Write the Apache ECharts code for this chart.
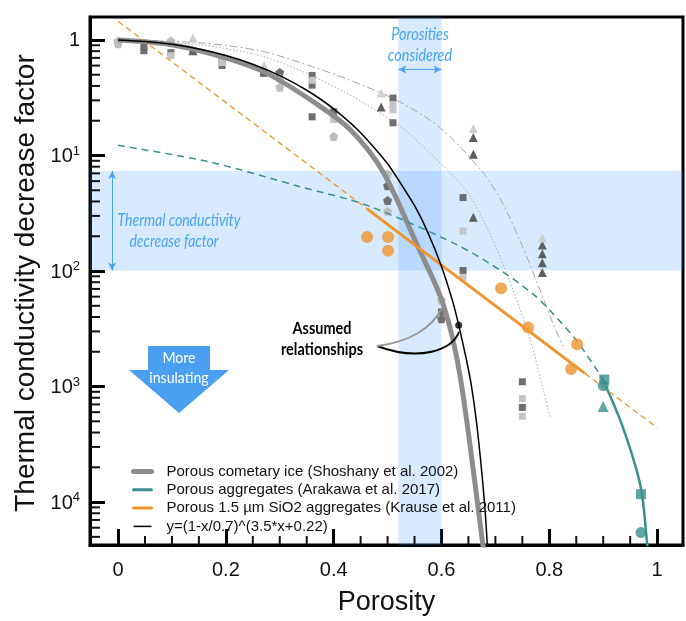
<!DOCTYPE html>
<html><head><meta charset="utf-8">
<script src="https://cdn.jsdelivr.net/npm/echarts@6/dist/echarts.min.js"></script>
<style>html,body{margin:0;padding:0;background:#fff}#c{width:686px;height:621px}</style>
</head><body><div id="c"></div>
<script>
// ---------- data ----------
const xTickLabels = ['0', '0.2', '0.4', '0.6', '0.8', '1'];
const yTickExponents = [0, 1, 2, 3, 4];
const xMinorTicks = [0.05,0.1,0.15,0.25,0.3,0.35,0.45,0.5,0.55,0.65,0.7,0.75,0.85,0.9,0.95];
const yMinorTicks = [0.9,0.8,0.7,0.6,0.5,0.4,0.3,0.2,
                     0.09,0.08,0.07,0.06,0.05,0.04,0.03,0.02,
                     0.009,0.008,0.007,0.006,0.005,0.004,0.003,0.002,
                     0.0009,0.0008,0.0007,0.0006,0.0005,0.0004,0.0003,0.0002,
                     0.00009,0.00008,0.00007,0.00006,0.00005];

const shoshanyCurve = [[0,1],[0.0965,0.915],[0.1855,0.731],[0.2727,0.524],[0.3655,0.285],[0.4304,0.1676],[0.4917,0.0721],[0.5547,0.01686],[0.603,0.00519],[0.6345,0.001236],[0.6772,0.0000414],[0.681,0.00003]];
const arakawaDashed = [[0,0.1225],[0.1707,0.0877],[0.3377,0.0537],[0.462,0.037],[0.629,0.01686],[0.7124,0.00991],[0.770,0.00631],[0.807,0.00427],[0.8516,0.00246],[0.898,0.00119]];
const arakawaSolid = [[0.898,0.00119],[0.9165,0.000757],[0.935,0.000463],[0.959,0.000211],[0.972,0.000117],[0.9814,0.0000439],[0.9845,0.0000327]];
const arakawaSquares = [[0.902,0.00115],[0.97,0.000117]];
const arakawaCircles = [[0.9,0.00102],[0.97,0.0000545]];
const arakawaTriangles = [[0.9,0.000673]];
const krauseDashedLow = [[0,1.45],[0.462,0.0345]];
const krauseSolid = [[0.462,0.0345],[0.866,0.0013]];
const krauseDashedHigh = [[0.866,0.0013],[1.0,0.00044]];
const krauseDots = [[0.462,0.0197],[0.501,0.0197],[0.501,0.015],[0.7106,0.0071],[0.7607,0.00324],[0.8516,0.00232],[0.8404,0.00142]];
const fitCurve = [[0,1],[0.05,0.971],[0.1,0.916],[0.15,0.835],[0.2,0.734],[0.25,0.617],[0.3,0.491],[0.35,0.367],[0.4,0.2534],[0.45,0.1575],[0.5,0.0847],[0.55,0.0368],[0.575,0.02137],[0.6,0.01095],[0.62,0.00561],[0.632,0.0034],[0.645,0.00182],[0.655,0.00105],[0.665,0.00049],[0.673,0.00022],[0.68,0.0000967],[0.685,0.0000427],[0.69,0.0000138]];
const fitPoint = [[0.632,0.0034]];
const bgDashCurve = [[0,1],[0.152,0.944],[0.2635,0.807],[0.3377,0.637],[0.4304,0.448],[0.5232,0.29],[0.5974,0.174],[0.6716,0.0764],[0.7087,0.0424],[0.7458,0.01824],[0.7829,0.00683],[0.807,0.0035],[0.8256,0.00223]];
const bgDotCurve = [[0,1],[0.152,0.908],[0.2635,0.731],[0.3377,0.545],[0.4304,0.333],[0.5232,0.178],[0.5844,0.0986],[0.6475,0.0486],[0.6957,0.01824],[0.7328,0.00683],[0.7644,0.00256],[0.7885,0.000958],[0.8015,0.000542]];
const bgDarkSquares = [[0.048,0.873],[0.048,0.807],[0.098,0.776],[0.139,0.807],[0.193,0.689],[0.193,0.601],[0.27,0.513],[0.36,0.493],[0.36,0.406],[0.36,0.216],[0.4,0.239],[0.51,0.314],[0.51,0.192],[0.6,0.00443],[0.64,0.0432],[0.64,0.0101],[0.75,0.0011],[0.75,0.000659]];
const bgLightSquares = [[0.098,0.731],[0.193,0.637],[0.36,0.448],[0.4,0.205],[0.51,0.274],[0.51,0.248],[0.64,0.0222],[0.64,0.00881],[0.75,0.000787],[0.75,0.000553]];
const bgDarkTriangles = [[0.139,0.807],[0.271,0.545],[0.488,0.263],[0.659,0.143],[0.659,0.1025],[0.659,0.0292],[0.787,0.0168],[0.787,0.0141],[0.787,0.0118],[0.787,0.00972]];
const bgLightTriangles = [[0.139,1.04],[0.271,0.601],[0.488,0.347],[0.659,0.171],[0.787,0.0193]];
const bgDarkPentagons = [[0.3,0.524],[0.5,0.0547],[0.5,0.0408],[0.6,0.00386]];
const bgLightPentagons = [[0,0.98],[0,0.925],[0.098,0.98],[0.3,0.465],[0.3,0.39],[0.4,0.146],[0.5,0.0693],[0.5,0.0329],[0.6,0.00561]];
const porosityBand = [0.52, 0.6];
const factorBand = [0.0101, 0.0734];
const factorArrowX = -0.011;
const porosityArrowY = 0.556;

const legendNames = ['Porous cometary ice (Shoshany et al. 2002)','Porous aggregates (Arakawa et al. 2017)','Porous 1.5 µm SiO2 aggregates (Krause et al. 2011)','y=(1-x/0.7)^(3.5*x+0.22)'];

// ---------- chart ----------
const X_MIN = -0.052, X_MAX = 1.048, Y_MIN = 4.25e-5, Y_MAX = 1.58;
const TEAL = '#3b8f8d', ORANGE = '#f0952e', GRAY = '#8d8d8d', BLUE = '#4aa3f5';
const PENTA = 'path://M0,-1 L0.951,-0.309 L0.588,0.809 L-0.588,0.809 L-0.951,-0.309 Z';
const FONT = '"Liberation Sans", Arial, sans-serif';

const chart = echarts.init(document.getElementById('c'));

function bgScatter(name, data, symbol, size, color) {
  return {type:'scatter', name, data, symbol, symbolSize:size, z:1, silent:true,
          itemStyle:{color, opacity:1}};
}

const option = {
  animation: false,
  backgroundColor: '#fff',
  grid: {left: 90, right: 3, top: 17, bottom: 66, show: true, borderColor: '#000', borderWidth: 3},
  xAxis: {
    type: 'value', min: X_MIN, max: X_MAX,
    name: 'Porosity', nameLocation: 'middle', nameGap: 44,
    nameTextStyle: {fontFamily: FONT, fontSize: 27, color: '#111'},
    axisLine: {onZero: false, lineStyle: {color: '#000', width: 3}},
    axisTick: {inside: true, length: 16, lineStyle: {color: '#000', width: 3}},
    axisLabel: {margin: 15, fontFamily: FONT, fontSize: 20, color: '#111', showMinLabel: false, showMaxLabel: false,
      formatter: v => { const s = String(Math.round(v * 10) / 10); return xTickLabels.indexOf(s) >= 0 && Math.abs(v*5 - Math.round(v*5)) < 1e-6 ? s : ''; }},
    splitLine: {show: false}
  },
  yAxis: {
    type: 'log', logBase: 10, min: Y_MIN, max: Y_MAX,
    axisLine: {onZero: false, lineStyle: {color: '#000', width: 3}},
    axisTick: {inside: true, length: 15, lineStyle: {color: '#000', width: 3}},
    axisLabel: {margin: 10, fontFamily: FONT, fontSize: 20, color: '#111', showMinLabel: false, showMaxLabel: false,
      formatter: v => {
        const e = Math.log10(v); const n = Math.round(-e);
        if (Math.abs(e + n) > 1e-6 || yTickExponents.indexOf(n) < 0) return '';
        return n === 0 ? '{b|1}' : '{b|10}{s|' + n + '}';
      },
      rich: {b: {fontFamily: FONT, fontSize: 20, lineHeight: 22, verticalAlign: 'bottom', color: '#111'},
             s: {fontFamily: FONT, fontSize: 13, lineHeight: 17, verticalAlign: 'top', color: '#111'}}
    },
    splitLine: {show: false}
  },
  legend: {
    orient: 'vertical', left: 126, top: 459, itemWidth: 18, itemHeight: 12, itemGap: 3.3,
    textStyle: {fontFamily: FONT, fontSize: 15, color: '#111', padding: [0, 0, 0, 10]},
    itemStyle: {opacity: 0},
    data: [
      {name: legendNames[0], lineStyle: {width: 5, color: GRAY, type: 'solid', cap: 'round'}},
      {name: legendNames[1], lineStyle: {width: 3, color: TEAL, type: 'solid', cap: 'round'}},
      {name: legendNames[2], lineStyle: {width: 3, color: ORANGE, type: 'solid', cap: 'round'}},
      {name: legendNames[3], lineStyle: {width: 1.5, color: '#000', type: 'solid'}}
    ],
    selectedMode: false
  },
  series: [
    {type:'line', name:'bg dash', data: bgDashCurve, smooth: 0.3, symbol:'none', z:1, silent:true,
     lineStyle:{color:'#a6a6a6', width:1, type:[8,3,2,3]}},
    {type:'line', name:'bg dot', data: bgDotCurve, smooth: 0.3, symbol:'none', z:1, silent:true,
     lineStyle:{color:'#ababab', width:1, type:[1.5,2]}},
    bgScatter('bg sq dark', bgDarkSquares, 'rect', 7, '#6e6e6e'),
    bgScatter('bg sq light', bgLightSquares, 'rect', 7, '#c4c4c4'),
    bgScatter('bg tri dark', bgDarkTriangles, 'triangle', 9, '#5e5e5e'),
    bgScatter('bg tri light', bgLightTriangles, 'triangle', 9, '#cfcfcf'),
    bgScatter('bg pent dark', bgDarkPentagons, PENTA, 9, '#707070'),
    bgScatter('bg pent light', bgLightPentagons, PENTA, 9, '#bdbdbd'),
    {type:'line', name:'bands', data: [], z:2, silent:true,
     markArea: {silent:true, itemStyle:{color:'rgba(60,150,250,0.2)'},
       data: [[{xAxis: porosityBand[0]}, {xAxis: porosityBand[1]}], [{yAxis: factorBand[0]}, {yAxis: factorBand[1]}]]},
     markLine: {silent:true, symbol:['arrow','arrow'], symbolSize:[6,8], label:{show:false},
       lineStyle:{color: BLUE, width:1, type:'solid'},
       data: [[{coord:[factorArrowX, factorBand[1]]}, {coord:[factorArrowX, factorBand[0]]}],
              [{coord:[porosityBand[0], porosityArrowY]}, {coord:[porosityBand[1], porosityArrowY]}]]}},
    {type:'line', name: legendNames[0], data: shoshanyCurve, smooth: 0.3, symbol:'none', z:3,
     lineStyle:{color: GRAY, width:5}},
    {type:'line', name: legendNames[1], data: arakawaSolid, smooth: 0.3, symbol:'none', z:3,
     lineStyle:{color: TEAL, width:2.5}},
    {type:'line', name:'Arakawa extrapolation', data: arakawaDashed, smooth: 0.3, symbol:'none', z:3,
     lineStyle:{color: TEAL, width:1.5, type:[7,5]}},
    {type:'line', name: legendNames[2], data: krauseSolid, symbol:'none', z:3,
     lineStyle:{color: ORANGE, width:3}},
    {type:'line', name:'Krause extrapolation low', data: krauseDashedLow, symbol:'none', z:3,
     lineStyle:{color: ORANGE, width:1.3, type:[6,4]}},
    {type:'line', name:'Krause extrapolation high', data: krauseDashedHigh, symbol:'none', z:3,
     lineStyle:{color: ORANGE, width:1.3, type:[6,4]}},
    {type:'line', name: legendNames[3], data: fitCurve, smooth: 0.2, symbol:'none', z:3,
     lineStyle:{color:'#000', width:1.5}},
    {type:'scatter', name:'Krause data', data: krauseDots, symbol:'circle', symbolSize:12, z:4, itemStyle:{color: ORANGE}},
    {type:'scatter', name:'Arakawa squares', data: arakawaSquares, symbol:'rect', symbolSize:10, z:4, itemStyle:{color: TEAL}},
    {type:'scatter', name:'Arakawa circles', data: arakawaCircles, symbol:'circle', symbolSize:11, z:4, itemStyle:{color: TEAL}},
    {type:'scatter', name:'Arakawa triangles', data: arakawaTriangles, symbol:'triangle', symbolSize:11, z:4, itemStyle:{color: TEAL}},
    {type:'scatter', name:'fit point', data: fitPoint, symbol:'circle', symbolSize:7, z:5, itemStyle:{color:'#000'}},
    {type:'custom', z:6, clip:false,
     data: yMinorTicks.map(v => [0.5, v]),
     renderItem: (p, api) => { const c = api.coord([api.value(0), api.value(1)]);
       return {type:'line', shape:{x1:p.coordSys.x, y1:c[1], x2:p.coordSys.x + 10, y2:c[1]}, style:{stroke:'#111', lineWidth:2}}; }},
    {type:'custom', z:6, clip:false,
     data: xMinorTicks.map(v => [v, 0.01]),
     renderItem: (p, api) => { const c = api.coord([api.value(0), api.value(1)]); const y0 = p.coordSys.y + p.coordSys.height;
       return {type:'line', shape:{x1:c[0], y1:y0, x2:c[0], y2:y0 - 9}, style:{stroke:'#111', lineWidth:2}}; }}
  ],
  graphic: [
    {type:'text', x:26, y:283, rotation: Math.PI/2, z:50,
     style:{text:'Thermal conductivity decrease factor', font:'28px ' + FONT, fill:'#111', align:'center', verticalAlign:'middle'}},
    {type:'polygon', z:50, shape:{points:[[148,346],[210,346],[210,370],[229,370],[179,413],[129,370],[148,370]]}, style:{fill:'#4b9ff0'}},
    {type:'text', x:179, y:358, scaleX:0.88, z:51, style:{text:'More', font:'16px Lato', fill:'#fff', align:'center', verticalAlign:'middle'}},
    {type:'text', x:179, y:378, scaleX:0.88, z:51, style:{text:'insulating', font:'16px Lato', fill:'#fff', align:'center', verticalAlign:'middle'}},
    {type:'text', x:420, y:34, scaleX:0.8, z:51, style:{text:'Porosities', font:'italic 18px Lato', fill: BLUE, align:'center', verticalAlign:'middle'}},
    {type:'text', x:420, y:55, scaleX:0.8, z:51, style:{text:'considered', font:'italic 18px Lato', fill: BLUE, align:'center', verticalAlign:'middle'}},
    {type:'text', x:179, y:220, scaleX:0.78, z:51, style:{text:'Thermal conductivity', font:'italic 18px Lato', fill: BLUE, align:'center', verticalAlign:'middle'}},
    {type:'text', x:174, y:241, scaleX:0.78, z:51, style:{text:'decrease factor', font:'italic 18px Lato', fill: BLUE, align:'center', verticalAlign:'middle'}},
    {type:'text', x:322, y:329, scaleX:0.85, z:51, style:{text:'Assumed', font:'bold 17px Lato', fill:'#000', align:'center', verticalAlign:'middle'}},
    {type:'text', x:322, y:350, scaleX:0.85, z:51, style:{text:'relationships', font:'bold 17px Lato', fill:'#000', align:'center', verticalAlign:'middle'}},
    {type:'bezierCurve', z:51, shape:{x1:377, y1:346, cpx1:420, cpy1:362, cpx2:452, cpy2:350, x2:459, y2:332}, style:{stroke:'#000', lineWidth:2, fill:null}},
    {type:'bezierCurve', z:51, shape:{x1:377, y1:346, cpx1:410, cpy1:342, cpx2:432, cpy2:328, x2:442, y2:308}, style:{stroke:'#999', lineWidth:2, fill:null}}
  ]
};
chart.setOption(option);
</script></body></html>
